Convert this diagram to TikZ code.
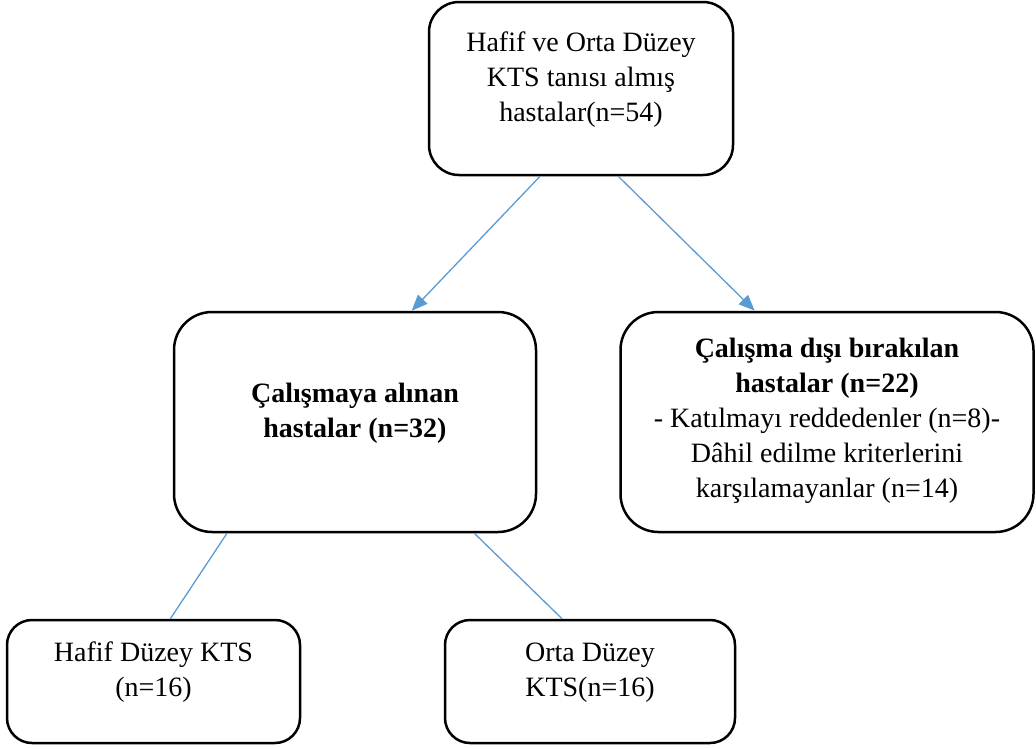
\documentclass[tikz,border=0pt]{standalone}
\usepackage{fontspec}
\setmainfont{Liberation Serif}
\usetikzlibrary{arrows.meta}
\definecolor{linkblue}{HTML}{5B9BD5}

\begin{document}
\begin{tikzpicture}[x=1pt,y=-1pt,
  box/.style={draw,line width=2.5pt,inner sep=0pt,align=center,
    font=\fontsize{28}{35}\selectfont,text depth=24pt},
  link/.style={draw=linkblue,line width=1.3pt},
  arrow/.style={link,-{Triangle[length=16pt,width=13pt]}}]
\useasboundingbox (0,0) rectangle (1036,748);

% Boxes
\node[box,minimum width=304,minimum height=173,rounded corners=30pt] (all) at (581,88.5)
  {Hafif ve Orta Düzey\\KTS tanısı almış\\hastalar(n=54)};
\node[box,minimum width=362,minimum height=220,rounded corners=38pt] (inc) at (355,422)
  {\textbf{Çalışmaya alınan}\\\textbf{hastalar (n=32)}};
\node[box,minimum width=413,minimum height=220,rounded corners=38pt,text depth=9pt] (exc) at (827,422)
  {\textbf{Çalışma dışı bırakılan}\\\textbf{hastalar (n=22)}\\- Katılmayı reddedenler (n=8)-\\Dâhil edilme kriterlerini\\karşılamayanlar (n=14)};
\node[box,minimum width=293,minimum height=123,rounded corners=25pt] (mild) at (153.5,681.5)
  {Hafif Düzey KTS\\(n=16)};
\node[box,minimum width=290,minimum height=123,rounded corners=25pt] (mod) at (590,681.5)
  {Orta Düzey\\KTS(n=16)};

% Arrows
\draw[arrow] (all.245) -- (inc.63);
\draw[arrow] (all.293) -- (exc.123);

% Lines
\draw[link] (inc.221) -- (mild.75);
\draw[link] (inc.317) -- (mod.114);

\end{tikzpicture}
\end{document}
